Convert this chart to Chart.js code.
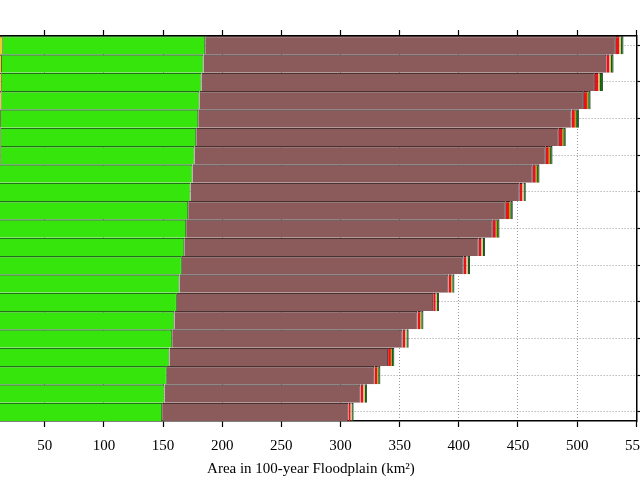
<!DOCTYPE html>
<html>
<head>
<meta charset="utf-8">
<script src="https://cdn.jsdelivr.net/npm/chart.js@4.4.0/dist/chart.umd.min.js"></script>
<style>
    html, body { margin: 0; padding: 0; overflow: hidden; background: #fff; }
    #wrap { position: absolute; left: -40px; top: 0; width: 700px; height: 480px; }
</style>
</head>
<body>
<div id="wrap"><canvas id="graphArea"></canvas></div>
<script>
// categories, top to bottom (their labels are cropped out of the picture)
const categories = ['1', '2', '3', '4', '5', '6', '7', '8', '9', '10', '11',
    '12', '13', '14', '15', '16', '17', '18', '19', '20', '21'];

// segment widths in km2, left to right
const yellowArea = [14.5, 13.8, 13.7, 13.6, 12.9, 12.8, 12.8, 12.0, 11.8, 11.6, 11.4,
    11.2, 11.0, 10.8, 10.6, 10.4, 10.2, 10.0, 9.8, 9.6, 9.4];
const greenArea = [171.1, 170.4, 168.8, 167.2, 166.8, 165.2, 163.8, 162.9, 161.4, 159.6, 158.1,
    156.7, 154.9, 153.1, 151.1, 149.2, 147.5, 145.4, 143.4, 141.6, 139.8];
const brownArea = [347.1, 340.4, 332.5, 324.9, 315.6, 306.5, 296.9, 287.6, 278.3, 268.5, 259.2,
    248.9, 238.2, 227.3, 216.6, 205.4, 194.8, 184.8, 175.4, 165.6, 157.4];
const redArea = [2.9, 2.8, 3.0, 2.6, 2.8, 2.7, 2.6, 2.6, 2.3, 2.7, 2.6,
    2.4, 2.4, 2.3, 2.2, 2.3, 2.3, 2.4, 2.3, 2.6, 2.0];
const orangeArea = [1.1, 1.0, 1.2, 1.0, 1.0, 1.0, 1.0, 1.0, 0.9, 1.0, 1.0,
    0.9, 0.9, 0.9, 0.8, 0.9, 0.9, 0.9, 0.9, 1.0, 0.8];
const darkGreenArea = [2.5, 2.4, 2.6, 2.1, 2.4, 2.2, 2.1, 2.1, 1.9, 2.2, 2.1,
    2.1, 2.1, 1.9, 1.9, 1.9, 1.9, 2.0, 1.9, 2.1, 1.7];

const xTitle = 'Area in 100-year Floodplain (km²)';

Chart.defaults.font.family = "'Liberation Serif', 'Times New Roman', serif";
Chart.defaults.font.size = 15;
Chart.defaults.color = '#000';

function segment(data, fill, edge, right) {
    return {
        data: data,
        backgroundColor: fill,
        borderColor: edge,
        borderWidth: { top: 1.4, right: right, bottom: 0, left: 0 },
        borderSkipped: false,
        inflateAmount: 0,
        barPercentage: 1,
        categoryPercentage: 1
    };
}

const dottedGrid = { color: '#000', width: 1.5, dash: [1, 2] };

new Chart(document.getElementById('graphArea'), {
    type: 'bar',
    data: {
        labels: categories,
        datasets: [
            segment(yellowArea, '#ecd20e', '#4a4a1a', 1),
            segment(greenArea, '#36e50b', '#23701a', 1),
            segment(brownArea, '#8b5a5a', '#4a3232', 1),
            segment(redArea, '#e8121c', '#5a1010', 0),
            segment(orangeArea, '#c89a00', '#4a3a10', 0),
            segment(darkGreenArea, '#0b650b', '#2a3a2a', 1)
        ]
    },
    options: {
        indexAxis: 'y',
        responsive: true,
        maintainAspectRatio: false,
        animation: false,
        layout: { padding: { left: 25.6, right: 19.7, top: 30, bottom: 0 } },
        plugins: { legend: { display: false }, tooltip: { enabled: false } },
        scales: {
            x: {
                type: 'linear',
                position: 'bottom',
                stacked: true,
                min: 0,
                max: 550,
                ticks: { stepSize: 50, padding: 10, maxRotation: 0, autoSkip: false },
                grid: { color: '#9a9a9a', lineWidth: 1, tickLength: 6, tickColor: '#000', tickWidth: 1.2, tickBorderDash: [] },
                border: { color: '#000', width: 1.5, dash: [1, 2] },
                title: { display: true, text: xTitle, padding: { top: -5, bottom: 2 } }
            },
            x2: {
                type: 'linear',
                position: 'top',
                min: 0,
                max: 550,
                ticks: { display: false, stepSize: 50 },
                grid: { drawOnChartArea: false, tickLength: 6, tickColor: '#000', tickWidth: 1.2 },
                border: { color: '#000', width: 1.5 }
            },
            y: {
                position: 'right',
                stacked: true,
                ticks: { display: false },
                afterBuildTicks: (scale) => {
                    scale.ticks = scale.ticks.filter((t, i) => i % 2 === 0);
                },
                grid: { offset: false, color: '#9a9a9a', lineWidth: 1, tickLength: 4, tickColor: '#000', tickWidth: 1.2, tickBorderDash: [] },
                border: dottedGrid
            }
        }
    }
});
</script>
</body>
</html>
